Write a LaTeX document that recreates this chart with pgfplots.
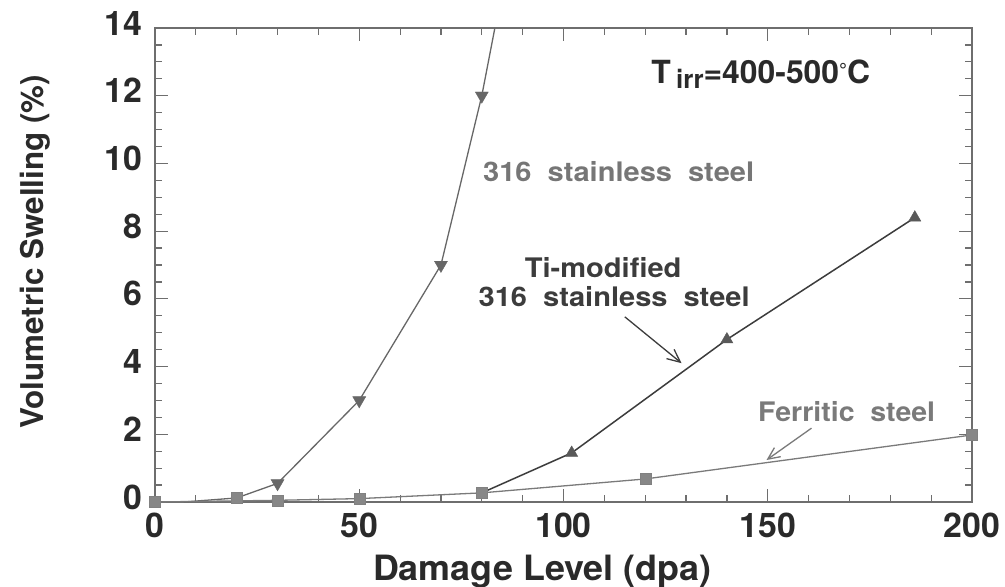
\documentclass[border=0pt]{standalone}
\usepackage{pgfplots}
\pgfplotsset{compat=1.18}
\usetikzlibrary{arrows.meta}
\usepackage{fontspec}
\setmainfont{TeX Gyre Heros}
\definecolor{frame}{HTML}{6E6E6E}
\definecolor{ss}{HTML}{676767}
\definecolor{ti}{HTML}{3C3C3C}
\definecolor{fe}{HTML}{7A7A7A}
\definecolor{txt}{HTML}{2A2A2A}

\begin{document}
\begin{tikzpicture}
\begin{axis}[
  scale only axis,
  width=817bp, height=474bp,
  xmin=0, xmax=200, ymin=0, ymax=14,
  xtick={0,50,...,200}, ytick={0,2,...,14},
  minor x tick num=4, minor y tick num=3,
  tick align=inside,
  major tick length=13bp, minor tick length=7bp,
  axis line style={frame, line width=1.3bp},
  every tick/.style={frame, line width=1.2bp},
  /pgf/number format/assume math mode=true,
  ticklabel style={font=\fontsize{34}{34}\selectfont\bfseries, text=txt},
  xticklabel style={yshift=-7bp},
  yticklabel style={xshift=-9bp, yshift=5bp},
  xlabel={Damage Level (dpa)},
  ylabel={Volumetric Swelling (\%)},
  xlabel style={at={(axis description cs:0.474,0)}, anchor=base, yshift=-78bp,
    font=\fontsize{35}{35}\selectfont\bfseries, text=txt, xscale=1.03},
  ylabel style={at={(axis description cs:-0.147,0.528)}, anchor=center,
    font=\fontsize{31.5}{31.5}\selectfont\bfseries, text=txt},
  clip=false,
]
% lines
\addplot[ss, line width=1.3bp, no marks] coordinates {
  (7,0) (20,0.12) (30,0.55) (50,3.0) (70,7.0) (80,12.0) (83.2,14)};
\addplot[fe, line width=1.3bp, no marks] coordinates {
  (0,0) (30,0.05) (50,0.1) (80,0.27) (120,0.68) (200,1.98)};
\addplot[ti, line width=1.5bp, no marks] coordinates {
  (80,0.27) (102,1.45) (140,4.8) (186,8.4)};
% marks
\addplot[only marks, mark=triangle*, mark size=7.5bp, ss,
  every mark/.append style={rotate=180, fill=ss}] coordinates {
  (30,0.55) (50,3.0) (70,7.0) (80,12.0)};
\addplot[only marks, mark=triangle*, mark size=7bp, ti!85,
  every mark/.append style={fill=ti!85}] coordinates {
  (102,1.45) (140,4.8) (186,8.4)};
\addplot[only marks, mark=square*, mark size=5.5bp, fe!95,
  every mark/.append style={fill=fe!90}] coordinates {
  (0,0) (20,0.12) (30,0.05) (50,0.1) (80,0.27) (120,0.68) (200,1.98)};
% annotations
\node[anchor=base, text=txt, font=\fontsize{32}{32}\selectfont\bfseries] at (axis cs:148.3,12.37)
  {T\,\raisebox{-0.3ex}{\fontsize{26}{26}\selectfont irr}=400-500\raisebox{0.35ex}{\fontsize{20}{20}\selectfont\textdegree}C};
\node[anchor=base, text=ss!90, font=\fontsize{27}{27}\selectfont\bfseries, xscale=1.08] at (axis cs:113.5,9.46)
  {316\hspace{0.55em}stainless\hspace{0.55em}steel};
\node[anchor=base, text=ti, font=\fontsize{27}{27}\selectfont\bfseries, xscale=1.08] at (axis cs:109.7,6.62)
  {Ti-modified};
\node[anchor=base, text=ti, font=\fontsize{27}{27}\selectfont\bfseries, xscale=1.08] at (axis cs:112.4,5.77)
  {316\hspace{0.55em}stainless\hspace{0.55em}steel};
\node[anchor=base, text=fe, font=\fontsize{27}{27}\selectfont\bfseries, xscale=1.06] at (axis cs:169.3,2.37)
  {Ferritic\hspace{0.55em}steel};
\draw[-{Straight Barb[length=13bp,width=12bp]}, ti, line width=1.3bp] (axis cs:115,5.47) -- (axis cs:128.9,4.1);
\draw[-{Straight Barb[length=12bp,width=11bp]}, fe, line width=1.3bp] (axis cs:160.7,2.18) -- (axis cs:149.7,1.24);
\end{axis}
\pgfresetboundingbox
\path (current axis.south west) ++(-155bp,-85bp);
\path (current axis.north east) ++(33bp,28bp);
\end{tikzpicture}
\end{document}
